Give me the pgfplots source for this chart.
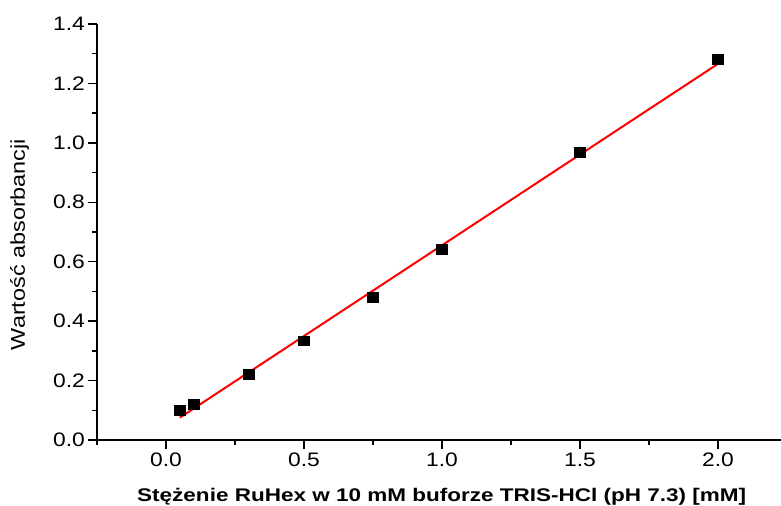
\documentclass[border=0pt]{standalone}
\usepackage{pgfplots}
\pgfplotsset{compat=1.18}
\usepackage{fontspec}
\setmainfont{Liberation Sans}[FakeStretch=1.17]
\newfontfamily\xlabfont{Liberation Sans}[FakeStretch=1.23]

\begin{document}
\begin{tikzpicture}
\begin{axis}[
  scale only axis,
  width=684bp, height=416bp,
  xmin=-0.25, xmax=2.228,
  ymin=0, ymax=1.4,
  axis x line*=bottom,
  axis y line*=left,
  axis line style={line width=1.4bp, black},
  tick align=outside,
  tick style={line width=1.4bp, black},
  major tick length=9bp,
  minor tick length=5bp,
  xtick={0,0.5,1,1.5,2},
  minor xtick={-0.25,0.25,0.75,1.25,1.75},
  ytick={0,0.2,0.4,0.6,0.8,1.0,1.2,1.4},
  minor ytick={0.1,0.3,0.5,0.7,0.9,1.1,1.3},
  /pgf/number format/assume math mode=true,
  /pgf/number format/.cd, fixed, fixed zerofill, precision=1, /pgfplots/.cd,
  tick label style={font=\fontsize{19.5bp}{22bp}\selectfont},
  xticklabel style={inner sep=2bp, yshift=-2bp},
  yticklabel style={inner sep=3bp},
  xlabel={St\k{e}\.zenie RuHex w 10 mM buforze TRIS-HCl (pH 7.3) [mM]},
  ylabel={Warto\'s\'c absorbancji},
  every axis x label/.style={at={(axis description cs:0.504,-0.149)}, anchor=base,
    font=\xlabfont\bfseries\fontsize{18.3bp}{22bp}\selectfont},
  every axis y label/.style={at={(axis description cs:-0.113,0.47)}, rotate=90, anchor=center,
    font=\fontsize{20bp}{23bp}\selectfont},
  clip=false,
]
% least-squares calibration line
\addplot[red, line width=2bp] coordinates {(0.05,0.0752) (2.0,1.2661)};
% measured absorbance
\addplot[only marks, mark=square*, mark size=4.8bp, mark options={xscale=1.12, fill=black, draw=black}]
  coordinates {
    (0.05,0.101) (0.10,0.120) (0.30,0.222) (0.50,0.334)
    (0.75,0.481) (1.00,0.643) (1.50,0.968) (2.00,1.281)
  };
\end{axis}
\pgfresetboundingbox
\path[use as bounding box] ([shift={(-97bp,-66bp)}]current axis.south west)
  rectangle ([shift={(0bp,24bp)}]current axis.north east);
\end{tikzpicture}
\end{document}
